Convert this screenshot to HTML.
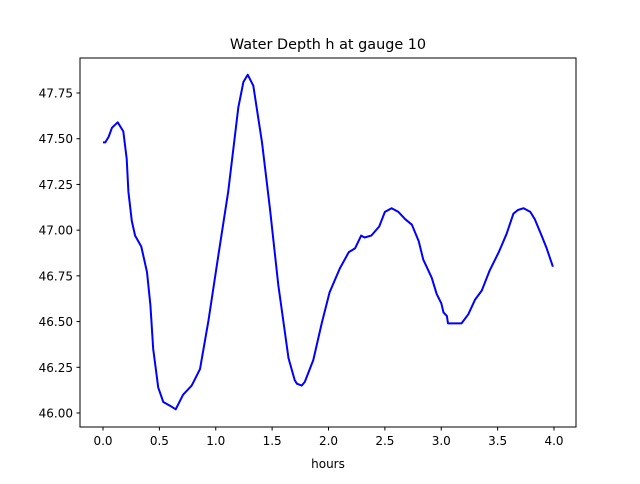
<!DOCTYPE html>
<html><head><meta charset="utf-8"><style>
body{margin:0;background:#fff;font-family:"DejaVu Sans","Liberation Sans",sans-serif;}
svg text{font-family:"DejaVu Sans","Liberation Sans",sans-serif;}
</style></head><body>
<svg id="chart" width="640" height="480" xmlns="http://www.w3.org/2000/svg">
<rect width="640" height="480" fill="#fff"/>
<text x="328" y="49" font-size="14.4" text-anchor="middle">Water Depth h at gauge 10</text>
<g id="ticks"></g>
<path id="line" fill="none" stroke="#0000ff" stroke-width="2" stroke-linejoin="round"/>
<rect x="80" y="58" width="496" height="369" fill="none" stroke="#000" stroke-width="1"/>
<text x="328" y="468" font-size="12" text-anchor="middle">hours</text>
</svg>
<script>
const hours=[0,0.02,0.05,0.08,0.13,0.18,0.21,0.225,0.255,0.285,0.34,0.39,0.42,0.445,0.49,0.535,0.594,0.645,0.71,0.787,0.86,0.934,1.023,1.11,1.2,1.245,1.283,1.333,1.41,1.48,1.555,1.645,1.7,1.72,1.762,1.79,1.865,1.94,2.01,2.1,2.18,2.235,2.29,2.32,2.38,2.45,2.5,2.56,2.62,2.68,2.74,2.8,2.84,2.915,2.96,3.0,3.02,3.05,3.06,3.12,3.18,3.24,3.3,3.36,3.43,3.51,3.58,3.64,3.68,3.73,3.79,3.83,3.89,3.935,3.99];
const depth=[47.48,47.48,47.51,47.56,47.59,47.54,47.39,47.21,47.05,46.97,46.91,46.77,46.59,46.35,46.14,46.06,46.04,46.02,46.1,46.15,46.24,46.5,46.86,47.21,47.67,47.81,47.85,47.79,47.48,47.12,46.7,46.3,46.18,46.16,46.15,46.17,46.29,46.49,46.66,46.79,46.88,46.9,46.97,46.96,46.97,47.02,47.1,47.12,47.1,47.06,47.03,46.94,46.84,46.74,46.65,46.6,46.55,46.53,46.49,46.49,46.49,46.54,46.62,46.67,46.78,46.88,46.98,47.09,47.11,47.12,47.1,47.06,46.97,46.9,46.8];
const xTicks=[0,0.5,1,1.5,2,2.5,3,3.5,4];
const yTicks=[46,46.25,46.5,46.75,47,47.25,47.5,47.75];
const X=v=>103+v*112.75;
const Y=v=>413-(v-46)*182.86;
const NS="http://www.w3.org/2000/svg";
const g=document.getElementById('ticks');
function mk(tag,attrs){const e=document.createElementNS(NS,tag);for(const k in attrs)e.setAttribute(k,attrs[k]);g.appendChild(e);return e;}
xTicks.forEach(t=>{
 const l=mk('line',{x1:X(t),x2:X(t),y1:427,y2:430.5,stroke:'#000'});
 
 
 const s=mk('text',{x:X(t),y:445,'font-size':12,'text-anchor':'middle'});
 s.textContent=t.toFixed(1);
 
 
});
yTicks.forEach(t=>{
 const l=mk('line',{x1:76.5,x2:80,y1:Y(t),y2:Y(t),stroke:'#000'});
 
 
 const s=mk('text',{x:73,y:Y(t)+4.5,'font-size':12,'text-anchor':'end'});
 s.textContent=t.toFixed(2);
 
 
});
document.getElementById('line').setAttribute('d',hours.map((h,i)=>(i?'L':'M')+X(h).toFixed(1)+' '+Y(depth[i]).toFixed(1)).join(' '));
</script>
</body></html>
